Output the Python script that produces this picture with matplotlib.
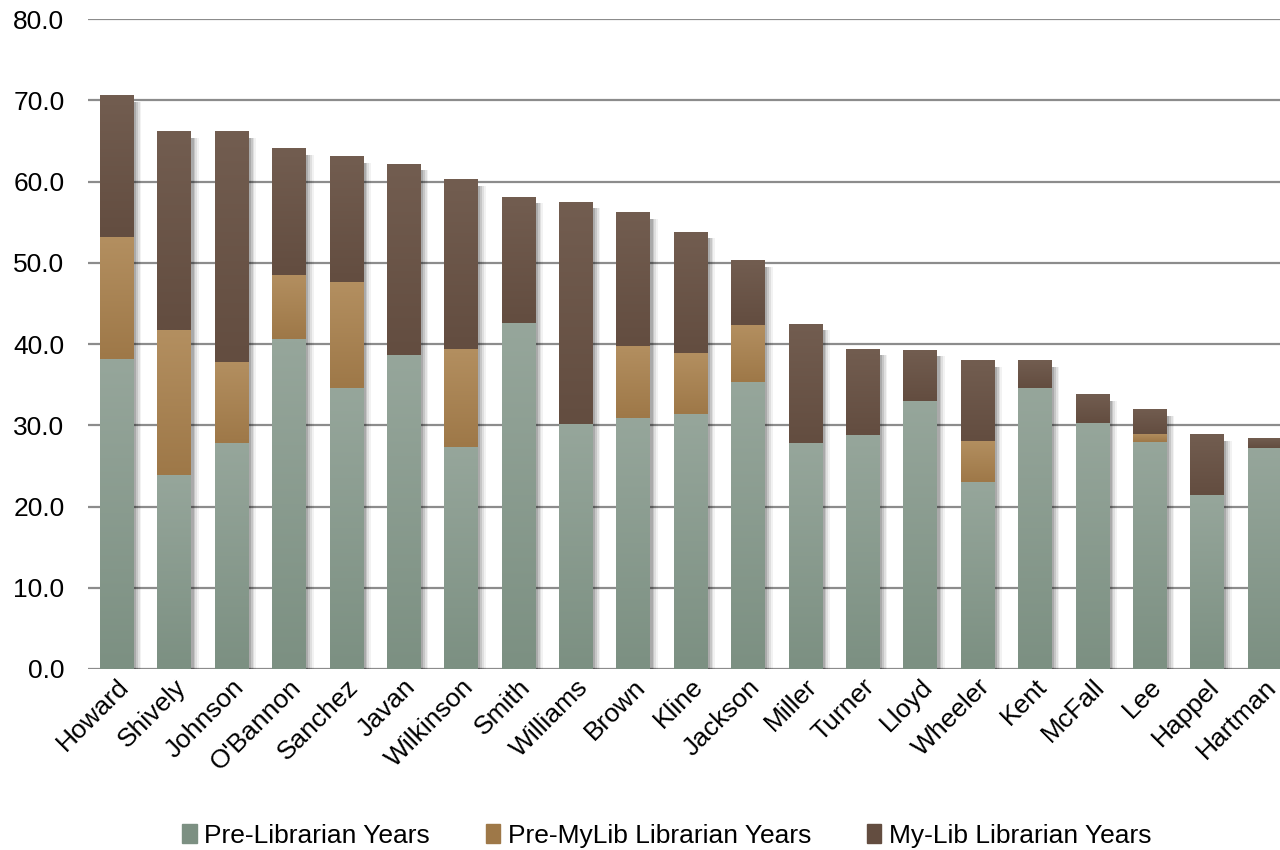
import numpy as np
import matplotlib.pyplot as plt
from matplotlib.colors import to_rgb
from matplotlib.patches import Patch

plt.rcParams['font.family'] = ['Liberation Sans', 'DejaVu Sans']

names = ['Howard', 'Shively', 'Johnson', "O'Bannon", 'Sanchez', 'Javan', 'Wilkinson',
         'Smith', 'Williams', 'Brown', 'Kline', 'Jackson', 'Miller', 'Turner', 'Lloyd',
         'Wheeler', 'Kent', 'McFall', 'Lee', 'Happel', 'Hartman']
pre_lib = [38.2, 23.9, 27.8, 40.6, 34.6, 38.6, 27.3, 42.6, 30.2, 30.9, 31.4,
           35.3, 27.8, 28.8, 33.0, 23.0, 34.6, 30.3, 27.9, 21.4, 27.2]
pre_mylib = [15.0, 17.8, 10.0, 7.9, 13.0, 0.0, 12.1, 0.0, 0.0, 8.9, 7.5,
             7.0, 0.0, 0.0, 0.0, 5.1, 0.0, 0.0, 1.0, 0.0, 0.0]
mylib = [17.4, 24.5, 28.4, 15.6, 15.5, 23.6, 20.9, 15.5, 27.3, 16.4, 14.9,
         8.0, 14.7, 10.6, 6.3, 9.9, 3.4, 3.5, 3.1, 7.5, 1.2]
series = ['Pre-Librarian Years', 'Pre-MyLib Librarian Years', 'My-Lib Librarian Years']
ticks = np.arange(0, 81, 10)

# top / bottom colour of each segment's shading
shades = [('#96a69b', '#7c9082'), ('#b38f60', '#9e7848'), ('#725d50', '#634d40')]

fig = plt.figure(figsize=(12.8, 8.5), dpi=100)
ax = fig.add_axes([88 / 1280, 181 / 850, 1205 / 1280, 650 / 850])

x = np.arange(len(names))
w = 0.58

total = np.array(pre_lib) + np.array(pre_mylib) + np.array(mylib)

# soft shadow behind each stacked bar
for dx, a in [(0.14, 0.05), (0.11, 0.08), (0.08, 0.11), (0.05, 0.14)]:
    ax.bar(x + dx, total - 0.3, width=w, bottom=-0.5, color='black', alpha=a,
           linewidth=0, zorder=2)

bottom = np.zeros(len(names))
for vals, (c_top, c_bot) in zip([pre_lib, pre_mylib, mylib], shades):
    vals = np.array(vals)
    bars = ax.bar(x, vals, width=w, bottom=bottom, color=c_bot, linewidth=0, zorder=3)
    top_rgb, bot_rgb = np.array(to_rgb(c_top)), np.array(to_rgb(c_bot))
    for rect, v, b in zip(bars, vals, bottom):
        if v <= 0:
            continue
        t = np.linspace(0, 1, 64)[:, None]
        grad = (top_rgb * (1 - t) + bot_rgb * t)[:, None, :]
        im = ax.imshow(grad, extent=[rect.get_x(), rect.get_x() + w, b, b + v],
                       origin='upper', aspect='auto', zorder=4, interpolation='bilinear')
        im.set_clip_path(rect)
    bottom += vals

ax.set_xlim(-0.5, len(names) - 0.5)
ax.set_ylim(0, 80)

ax.set_yticks(ticks)
ax.set_yticklabels([f'{t:.1f}' for t in ticks], fontsize=19)
ax.yaxis.grid(True, color='#8c8c8c', linewidth=1.6)
ax.set_axisbelow(True)
ax.tick_params(axis='y', length=0, pad=17)
ax.tick_params(axis='x', length=0, pad=4)
ax.set_xticks(x)
ax.set_xticklabels(names, rotation=45, ha='right', rotation_mode='anchor', fontsize=19)
for s in ax.spines.values():
    s.set_visible(False)

handles = [Patch(color=c[1]) for c in shades]
fig.legend(handles, series, loc='center', bbox_to_anchor=(0.521, 0.017), ncol=3,
           frameon=False, fontsize=19, handlelength=0.55, handleheight=0.75,
           handletextpad=0.3, columnspacing=2.1)

fig.savefig('out.png', dpi=100)
